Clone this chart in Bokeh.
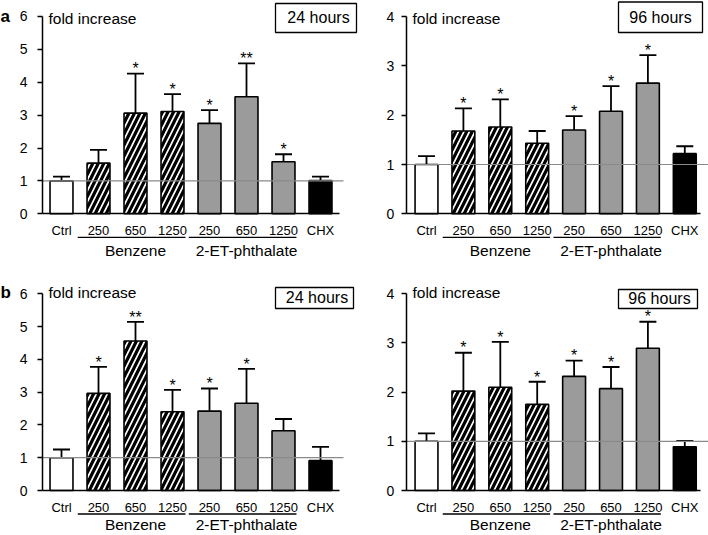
from bokeh.plotting import figure
from bokeh.models import LinearAxis, FixedTicker, ColumnDataSource, Whisker, TeeHead, Range1d
from bokeh.layouts import row, column
from bokeh.embed import file_html
from bokeh.resources import INLINE
from bokeh.core.properties import value

# ---------------- data ----------------
categories = ["Ctrl", "250", "650", "1250", "250", "650", "1250", "CHX"]
benzene_idx = [1, 2, 3]
phthalate_idx = [4, 5, 6]
group_names = ["Benzene", "2-ET-phthalate"]

a24_mean = [1.00, 1.54, 3.06, 3.11, 2.75, 3.56, 1.58, 1.01]
a24_err = [0.13, 0.40, 1.20, 0.53, 0.40, 1.01, 0.23, 0.12]
a24_sig = ["", "", "*", "*", "*", "**", "*", ""]

a96_mean = [1.00, 1.68, 1.76, 1.43, 1.70, 2.08, 2.65, 1.22]
a96_err = [0.17, 0.46, 0.56, 0.25, 0.28, 0.51, 0.57, 0.15]
a96_sig = ["", "*", "*", "", "*", "*", "*", ""]

b24_mean = [1.00, 2.96, 4.56, 2.40, 2.42, 2.66, 1.82, 0.91]
b24_err = [0.25, 0.81, 0.58, 0.67, 0.69, 1.05, 0.36, 0.42]
b24_sig = ["", "*", "**", "*", "*", "*", "", ""]

b96_mean = [1.00, 2.02, 2.10, 1.75, 2.32, 2.07, 2.89, 0.89]
b96_err = [0.16, 0.78, 0.92, 0.46, 0.32, 0.44, 0.54, 0.12]
b96_sig = ["", "*", "*", "*", "*", "*", "*", ""]

y_label = "fold increase"

# ---------------- style ----------------
FONT = "Liberation Sans"
GRAY = "#9b9b9b"
BASE_FIX = 0.36  # upward correction (in em) for alphabetic-baseline text


def kind_of(i):
    if i in benzene_idx:
        return "benzene"
    if i in phthalate_idx:
        return "phthalate"
    return "control" if i == 0 else "chx"


FILL = {"control": "white", "benzene": "white", "phthalate": GRAY, "chx": "black"}
HATCH = {"control": " ", "benzene": "/", "phthalate": " ", "chx": " "}


def make_panel(letter, hours, mean, err, sig, y_max, col, rw, box, box_text, fold_pos, letter_y):
    W, x0_px, px_x, axis_x, xaxis_end, ref_end_px, ystand = col
    H, zero_px, px_pair, grp_px = rw
    px_y = px_pair[0] if y_max == 6 else px_pair[1]

    def dx(px):
        return (px - x0_px) / px_x

    def dy(py, fs=0.0):
        return (zero_px - py + BASE_FIX * fs) / px_y

    p = figure(width=W, height=H,
               x_range=Range1d(dx(0), dx(W)), y_range=Range1d(dy(H), dy(0)),
               x_axis_type=None, y_axis_type=None,
               toolbar_location=None, output_backend="svg",
               min_border=0, outline_line_color=None,
               background_fill_color="white", border_fill_color="white")

    n = len(categories)
    kinds = [kind_of(i) for i in range(n)]
    star_fs = 16
    src = ColumnDataSource(dict(
        x=list(range(n)),
        mean=mean,
        upper=[m + e for m, e in zip(mean, err)],
        star_y=[m + e + (BASE_FIX * star_fs - 1.0) / px_y for m, e in zip(mean, err)],
        sig=sig,
        fill=[FILL[k] for k in kinds],
        hatch=[HATCH[k] for k in kinds],
    ))

    p.vbar(x="x", top="mean", bottom=0, width=0.62, source=src,
           fill_color="fill", hatch_pattern="hatch", hatch_color="black",
           hatch_scale=11, hatch_weight=3.2,
           line_color="black", line_width=1.6)

    p.add_layout(Whisker(source=src, base="x", lower="mean", upper="upper",
                         dimension="height", line_color="black", line_width=1.8,
                         upper_head=TeeHead(size=17, line_color="black", line_width=1.8),
                         lower_head=None))

    # reference line at 1
    p.segment(x0=[axis_x], y0=[1], x1=[dx(ref_end_px)], y1=[1],
              line_color="#8a8a8a", line_width=1.2)

    p.text(x="x", y="star_y", text="sig", source=src,
           text_font=value(FONT), text_font_size="%dpx" % star_fs,
           text_align="center", text_baseline="alphabetic", text_color="black")

    # group underlines and names
    groups = [benzene_idx, phthalate_idx]
    ul_y = -23.5 / px_y
    p.segment(x0=[g[0] - 0.56 for g in groups], y0=[ul_y] * 2,
              x1=[g[-1] + 0.35 for g in groups], y1=[ul_y] * 2,
              line_color="black", line_width=1.3)
    p.text(x=[sum(g) / len(g) for g in groups], y=[dy(zero_px + grp_px, 15.5)] * 2,
           text=group_names,
           text_font=value(FONT), text_font_size="15.5px",
           text_align="center", text_baseline="alphabetic", text_color="black")

    # axes
    yax = LinearAxis(fixed_location=axis_x,
                     ticker=FixedTicker(ticks=list(range(y_max + 1))),
                     bounds=(0, y_max),
                     major_tick_out=5, major_tick_in=0,
                     minor_tick_out=0, minor_tick_in=0,
                     axis_line_width=1.5, axis_line_color="black",
                     major_tick_line_width=1.5, major_tick_line_color="black",
                     major_label_text_font=FONT, major_label_text_font_size="14px",
                     major_label_text_color="black", major_label_standoff=ystand)
    p.add_layout(yax, "left")

    xax = LinearAxis(fixed_location=0,
                     ticker=FixedTicker(ticks=list(range(n))),
                     major_label_overrides={i: c for i, c in enumerate(categories)},
                     bounds=(axis_x, xaxis_end),
                     major_tick_out=0, major_tick_in=0,
                     minor_tick_out=0, minor_tick_in=0,
                     axis_line_width=1.5, axis_line_color="black",
                     major_label_text_font=FONT, major_label_text_font_size="13px",
                     major_label_text_color="black", major_label_standoff=9)
    p.add_layout(xax, "below")

    # header texts
    p.text(x=[dx(fold_pos[0])], y=[dy(fold_pos[1], 15.5)], text=[y_label],
           text_font=value(FONT), text_font_size="15.5px",
           text_align="left", text_baseline="alphabetic", text_color="black")
    bx0, by0, bx1, by1 = box
    p.quad(left=[dx(bx0)], right=[dx(bx1)], top=[dy(by0)], bottom=[dy(by1)],
           fill_color="white", line_color="black", line_width=1.3)
    p.text(x=[dx(box_text[0])], y=[dy(box_text[1], 16)], text=[hours],
           text_font=value(FONT), text_font_size="16px",
           text_align="center", text_baseline="alphabetic", text_color="black")
    if letter:
        p.text(x=[dx(0)], y=[dy(letter_y, 17)], text=[letter],
               text_font=value(FONT), text_font_size="17px", text_font_style="bold",
               text_align="left", text_baseline="alphabetic", text_color="black")
    return p


# column layouts: W, x0_px, px_x, axis_x, xaxis_end, ref_end_px, ystandoff
left_col = (358, 61, 37.0, -0.514, 7.51, 343, 10)
right_col = (350, 68, 36.9, -0.55, 7.43, 350, 7)
# row layouts: H, zero_px, (px_y for 0-6 axis, px_y for 0-4 axis), group-label baseline below zero
top_row = (265, 213.3, (32.9, 49.3), 42)
bot_row = (270, 225.0, (32.8, 49.2), 40)

p1 = make_panel("a", "24 hours", a24_mean, a24_err, a24_sig, 6, left_col, top_row,
                (275, 3, 356, 32), (318, 22.7), (48, 24), 22)
p2 = make_panel("", "96 hours", a96_mean, a96_err, a96_sig, 4, right_col, top_row,
                (260, 1.5, 344, 32), (302, 22.7), (54, 24), 22)
p3 = make_panel("b", "24 hours", b24_mean, b24_err, b24_sig, 6, left_col, bot_row,
                (275, 22, 353, 43), (316.5, 38), (48, 33), 33)
p4 = make_panel("", "96 hours", b96_mean, b96_err, b96_sig, 4, right_col, bot_row,
                (260, 24, 339, 43), (301, 38.5), (54, 33), 33)

layout = column(row(p1, p2), row(p3, p4))
open("out.html", "w").write(file_html(layout, INLINE))
